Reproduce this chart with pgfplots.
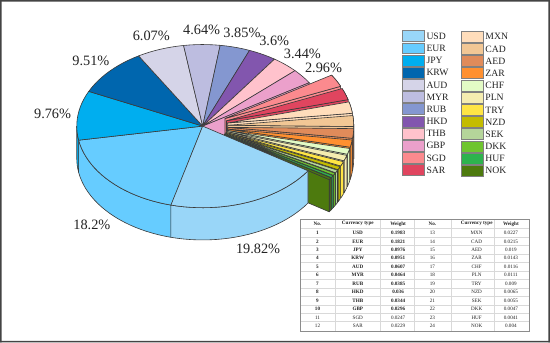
\documentclass[border=0pt]{standalone}
\usepackage{pgfplots}
\pgfplotsset{compat=1.18}
\usepackage{fontspec}
\setmainfont{Liberation Serif}
\definecolor{cUSD}{HTML}{99D6F8}\definecolor{cEUR}{HTML}{66CCFF}\definecolor{cJPY}{HTML}{00AEEF}
\definecolor{cKRW}{HTML}{0066AE}\definecolor{cAUD}{HTML}{D5D4E8}\definecolor{cMYR}{HTML}{BDBDE0}
\definecolor{cRUB}{HTML}{8497D0}\definecolor{cHKD}{HTML}{8256AE}\definecolor{cTHB}{HTML}{FFC2CC}
\definecolor{cGBP}{HTML}{EBA0CB}\definecolor{cSGD}{HTML}{FB8A8E}\definecolor{cSAR}{HTML}{E0455F}
\definecolor{cMXN}{HTML}{FFDDBB}\definecolor{cCAD}{HTML}{F2C795}\definecolor{cAED}{HTML}{E08B5A}
\definecolor{cZAR}{HTML}{FF9030}\definecolor{cCHF}{HTML}{E3FBC5}\definecolor{cPLN}{HTML}{F5EDB0}
\definecolor{cTRY}{HTML}{FFE545}\definecolor{cNZD}{HTML}{C4BC00}\definecolor{cSEK}{HTML}{B5D59A}
\definecolor{cDKK}{HTML}{6FC52F}\definecolor{cHUF}{HTML}{2DB34E}\definecolor{cNOK}{HTML}{4D7A0E}
\definecolor{edge}{HTML}{3A3A3A}\definecolor{txt}{HTML}{222222}\definecolor{framec}{HTML}{444444}
\newcount\ptc
\newcommand\addarc[6]{%
  \pgfmathtruncatemacro\nseg{max(1,ceil(abs((#6)-(#5))/3))}%
  \ptc=0
  \loop
    \pgfmathsetmacro\tang{(#5)+((#6)-(#5))*\the\ptc/\nseg}%
    \pgfmathsetmacro\px{(#1)+(#3)*cos(\tang)}%
    \pgfmathsetmacro\py{(#2)-(#4)*sin(\tang)}%
    \xdef\coords{\coords (\px,\py)}%
  \ifnum\ptc<\nseg \advance\ptc by 1 \repeat
}
\newcommand\polyplot[1]{\edef\tmp{\noexpand\addplot[fill=#1,draw=edge,line width=0.6pt,line join=round,mark=none,forget plot] coordinates {\coords};}\tmp}
\newcommand\topslice[5]{\xdef\coords{(#4,#5)}\addarc{#4}{#5}{125}{81}{#2}{#3}\xdef\coords{\coords (#4,#5)}\polyplot{#1}}
\newcommand\sideslice[5]{\xdef\coords{}\addarc{#4}{#5}{125}{81}{#2}{#3}\addarc{#4}{(#5)+32}{125}{81}{#3}{#2}\addarc{#4}{#5}{125}{81}{#2}{#2}\polyplot{#1}}
\newcommand\wall[4]{%
  \pgfmathsetmacro\wx{(#3)+125*cos(#2)}\pgfmathsetmacro\wy{(#4)-81*sin(#2)}%
  \pgfmathsetmacro\wyd{\wy+32}\pgfmathsetmacro\cyd{(#4)+32}%
  \xdef\coords{(#3,#4) (\wx,\wy) (\wx,\wyd) (#3,\cyd) (#3,#4)}\polyplot{#1}}
\def\curang{255.5}
\newcommand\mainslice[2]{%
  \pgfmathsetmacro\tb{\curang-3.6*(#2)}\topslice{#1}{\curang}{\tb}{203}{128}\xdef\curang{\tb}}
\newcommand\expl[2]{%
  \pgfmathsetmacro\tb{\curang-3.6*(#2)}\pgfmathsetmacro\tm{(\curang+\tb)/2}%
  \pgfmathsetmacro\ecx{203+25*cos(\tm)}\pgfmathsetmacro\ecy{128-16.2*sin(\tm)}%
  \sideslice{#1}{\curang}{\tb}{\ecx}{\ecy}\wall{#1}{\tb}{\ecx}{\ecy}\topslice{#1}{\curang}{\tb}{\ecx}{\ecy}\xdef\curang{\tb}}
\newcommand\swatch[4]{%  x y color name
  \pgfmathsetmacro\sx{#1+21.7}\pgfmathsetmacro\sa{#2-5.4}\pgfmathsetmacro\sb{#2+5.4}%
  \edef\tmp{\noexpand\addplot[fill=#3,draw=gray,line width=0.8pt,mark=none,forget plot] coordinates {(#1,\sa) (\sx,\sa) (\sx,\sb) (#1,\sb) (#1,\sa)};}\tmp
  \pgfmathsetmacro\lx{#1+24}%
  \edef\tmp{\noexpand\node[anchor=west,inner sep=0pt,text=txt,font=\noexpand\fontsize{9.6}{10}\noexpand\selectfont] at (axis cs:\lx,#2) {#4};}\tmp}
\newcommand\pct[3]{\node[text=txt,inner sep=0pt,font=\fontsize{14.2}{15}\selectfont] at (axis cs:#1,#2) {#3};}
\newcommand\tcell[4]{\node[text=txt,inner sep=0pt,font=\fontsize{5.1}{6}\selectfont#4] at (axis cs:#1,#2) {#3};}
\newcommand\trow[8]{%  y no cur wt no cur wt bold
  \tcell{317}{#1}{#2}{#8}\tcell{357}{#1}{#3}{#8}\tcell{397}{#1}{#4}{#8}%
  \tcell{431}{#1}{#5}{}\tcell{475}{#1}{#6}{}\tcell{509}{#1}{#7}{}}
\begin{document}
\begin{tikzpicture}
\begin{axis}[x=1pt,y=1pt,xmin=0,xmax=550,ymin=0,ymax=346,y dir=reverse,hide axis,anchor=south west,at={(0,0)},clip=false]
% outer frame
\addplot[fill=framec,draw=none,mark=none,forget plot] coordinates {(1.8,2.8) (547.8,2.8) (547.8,4.3) (1.8,4.3) (1.8,2.8)};
\addplot[fill=framec,draw=none,mark=none,forget plot] coordinates {(1.8,341.3) (547.8,341.3) (547.8,342.8) (1.8,342.8) (1.8,341.3)};
\addplot[fill=framec,draw=none,mark=none,forget plot] coordinates {(1.8,2.8) (3.3,2.8) (3.3,342.8) (1.8,342.8) (1.8,2.8)};
\addplot[fill=framec,draw=none,mark=none,forget plot] coordinates {(546.3,2.8) (547.8,2.8) (547.8,342.8) (546.3,342.8) (546.3,2.8)};
% main pie, sides in front
\sideslice{cEUR}{255.5}{189.9}{203}{128}
\sideslice{cJPY}{189.9}{180}{203}{128}
% main pie, tops: weights in percent
\mainslice{cEUR}{18.21}
\mainslice{cJPY}{9.76}
\mainslice{cKRW}{9.51}
\mainslice{cAUD}{6.07}
\mainslice{cMYR}{4.64}
\mainslice{cRUB}{3.85}
\mainslice{cHKD}{3.6}
\mainslice{cTHB}{3.44}
\mainslice{cGBP}{2.96}
\wall{cGBP}{\curang}{203}{128}
% exploded slices, back to front
\expl{cSGD}{2.47}
\expl{cSAR}{2.29}
\expl{cMXN}{2.27}
\expl{cCAD}{2.15}
\expl{cAED}{1.9}
\expl{cZAR}{1.43}
\expl{cCHF}{1.16}
\expl{cPLN}{1.11}
\expl{cTRY}{0.9}
\expl{cNZD}{0.65}
\expl{cSEK}{0.55}
\expl{cDKK}{0.47}
\expl{cHUF}{0.41}
\expl{cNOK}{0.4}
% USD last
\pgfmathsetmacro\tu{\curang-3.6*19.83}
\sideslice{cUSD}{\curang}{\tu}{203}{128}
\topslice{cUSD}{\curang}{\tu}{203}{128}
% percent labels
\pct{54}{116}{9.76\%}
\pct{92}{63}{9.51\%}
\pct{152}{38}{6.07\%}
\pct{202}{32}{4.64\%}
\pct{242}{35}{3.85\%}
\pct{274}{43}{3.6\%}
\pct{302}{56}{3.44\%}
\pct{323}{70}{2.96\%}
\pct{93}{226}{18.2\%}
\pct{258}{250}{19.82\%}
% legend
\swatch{401}{38.7}{cUSD}{USD}
\swatch{401}{50.8}{cEUR}{EUR}
\swatch{401}{62.9}{cJPY}{JPY}
\swatch{401}{75.0}{cKRW}{KRW}
\swatch{401}{87.1}{cAUD}{AUD}
\swatch{401}{99.2}{cMYR}{MYR}
\swatch{401}{111.3}{cRUB}{RUB}
\swatch{401}{123.4}{cHKD}{HKD}
\swatch{401}{135.4}{cTHB}{THB}
\swatch{401}{147.5}{cGBP}{GBP}
\swatch{401}{159.6}{cSGD}{SGD}
\swatch{401}{171.7}{cSAR}{SAR}
\swatch{459.5}{39.3}{cMXN}{MXN}
\swatch{459.5}{51.4}{cCAD}{CAD}
\swatch{459.5}{63.5}{cAED}{AED}
\swatch{459.5}{75.6}{cZAR}{ZAR}
\swatch{459.5}{87.7}{cCHF}{CHF}
\swatch{459.5}{99.8}{cPLN}{PLN}
\swatch{459.5}{111.9}{cTRY}{TRY}
\swatch{459.5}{124.0}{cNZD}{NZD}
\swatch{459.5}{136.1}{cSEK}{SEK}
\swatch{459.5}{148.2}{cDKK}{DKK}
\swatch{459.5}{160.3}{cHUF}{HUF}
\swatch{459.5}{172.4}{cNOK}{NOK}
% table grid
\draw[black!15,line width=0.5pt] (axis cs:300,229.8) -- (axis cs:527,229.8);
\draw[black!15,line width=0.5pt] (axis cs:300,238.2) -- (axis cs:527,238.2);
\draw[black!15,line width=0.5pt] (axis cs:300,246.6) -- (axis cs:527,246.6);
\draw[black!15,line width=0.5pt] (axis cs:300,255.0) -- (axis cs:527,255.0);
\draw[black!15,line width=0.5pt] (axis cs:300,263.4) -- (axis cs:527,263.4);
\draw[black!15,line width=0.5pt] (axis cs:300,271.8) -- (axis cs:527,271.8);
\draw[black!15,line width=0.5pt] (axis cs:300,280.2) -- (axis cs:527,280.2);
\draw[black!15,line width=0.5pt] (axis cs:300,288.6) -- (axis cs:527,288.6);
\draw[black!15,line width=0.5pt] (axis cs:300,297.0) -- (axis cs:527,297.0);
\draw[black!15,line width=0.5pt] (axis cs:300,305.4) -- (axis cs:527,305.4);
\draw[black!15,line width=0.5pt] (axis cs:300,313.8) -- (axis cs:527,313.8);
\draw[black!15,line width=0.5pt] (axis cs:300,322.2) -- (axis cs:527,322.2);
\draw[black!15,line width=0.5pt] (axis cs:335,221) -- (axis cs:335,332);
\draw[black!15,line width=0.5pt] (axis cs:379,221) -- (axis cs:379,332);
\draw[black!15,line width=0.5pt] (axis cs:413,221) -- (axis cs:413,332);
\draw[black!15,line width=0.5pt] (axis cs:450,221) -- (axis cs:450,332);
\draw[black!15,line width=0.5pt] (axis cs:492,221) -- (axis cs:492,332);
\draw[black!45,line width=0.9pt] (axis cs:300,221) rectangle (axis cs:527,332);
% table text
\tcell{317}{225}{No.}{\bfseries}\tcell{357}{225}{Currency type}{\bfseries}\tcell{397}{225}{Weight}{\bfseries}
\tcell{431}{225}{No.}{\bfseries}\tcell{475}{225}{Currency type}{\bfseries}\tcell{509}{225}{Weight}{\bfseries}
\trow{234}{1}{USD}{0.1983}{13}{MXN}{0.0227}{\bfseries}
\trow{242.4}{2}{EUR}{0.1821}{14}{CAD}{0.0215}{\bfseries}
\trow{250.8}{3}{JPY}{0.0976}{15}{AED}{0.019}{\bfseries}
\trow{259.2}{4}{KRW}{0.0951}{16}{ZAR}{0.0143}{\bfseries}
\trow{267.6}{5}{AUD}{0.0607}{17}{CHF}{0.0116}{\bfseries}
\trow{276}{6}{MYR}{0.0464}{18}{PLN}{0.0111}{\bfseries}
\trow{284.4}{7}{RUB}{0.0385}{19}{TRY}{0.009}{\bfseries}
\trow{292.8}{8}{HKD}{0.036}{20}{NZD}{0.0065}{\bfseries}
\trow{301.2}{9}{THB}{0.0344}{21}{SEK}{0.0055}{\bfseries}
\trow{309.6}{10}{GBP}{0.0296}{22}{DKK}{0.0047}{\bfseries}
\trow{318}{11}{SGD}{0.0247}{23}{HUF}{0.0041}{}
\trow{326.4}{12}{SAR}{0.0229}{24}{NOK}{0.004}{}
\end{axis}
\end{tikzpicture}
\end{document}
